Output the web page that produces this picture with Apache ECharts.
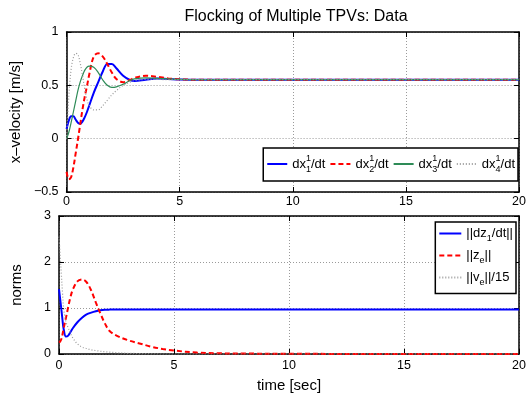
<!DOCTYPE html>
<html><head><meta charset="utf-8">
<script src="https://cdn.jsdelivr.net/npm/echarts@6/dist/echarts.min.js"></script>
<style>html,body{margin:0;padding:0;background:#fff}#c{width:529px;height:400px}</style>
</head><body><div id="c"></div>
<script>
// ---- data ----
const titleText = 'Flocking of Multiple TPVs: Data';
const xTicks = [0, 5, 10, 15, 20];
const tTop = [0,0.1,0.2,0.3,0.4,0.5,0.6,0.7,0.8,0.9,1.0,1.2,1.4,1.6,1.8,2.0,2.2,2.5,2.8,3.0,3.5,4.0,4.5,5,6,8,10,15,20];
const dx1 = [0.09,0.17,0.21,0.21,0.18,0.15,0.14,0.16,0.20,0.25,0.31,0.43,0.53,0.63,0.70,0.70,0.66,0.59,0.55,0.54,0.553,0.565,0.56,0.555,0.553,0.553,0.553,0.553,0.553];
const dx2 = [-0.31,-0.38,-0.36,-0.27,-0.14,-0.01,0.13,0.27,0.39,0.49,0.60,0.77,0.80,0.77,0.70,0.62,0.56,0.53,0.55,0.57,0.59,0.58,0.565,0.556,0.553,0.553,0.553,0.553,0.553];
const dx3 = [0.0,0.06,0.15,0.25,0.35,0.45,0.53,0.59,0.64,0.67,0.68,0.67,0.62,0.55,0.50,0.48,0.485,0.51,0.545,0.56,0.57,0.565,0.56,0.555,0.553,0.553,0.553,0.553,0.553];
const dx4 = [0.0,0.40,0.65,0.76,0.80,0.79,0.71,0.60,0.47,0.37,0.31,0.27,0.27,0.31,0.36,0.41,0.45,0.50,0.53,0.545,0.555,0.555,0.553,0.553,0.553,0.553,0.553,0.553,0.553];
const tBot = [0,0.05,0.1,0.15,0.2,0.3,0.4,0.5,0.6,0.8,1.0,1.2,1.4,1.6,1.8,2.0,2.2,2.5,3.0,3.5,4.0,4.5,5,6,7,8,10,15,20];
const nDz = [1.41,1.20,0.98,0.75,0.55,0.38,0.40,0.48,0.56,0.69,0.79,0.86,0.90,0.93,0.95,0.96,0.965,0.97,0.97,0.97,0.97,0.97,0.97,0.97,0.97,0.97,0.97,0.97,0.97];
const nZe = [0.25,0.27,0.32,0.42,0.55,0.78,1.02,1.24,1.40,1.58,1.62,1.56,1.38,1.12,0.88,0.66,0.50,0.40,0.30,0.23,0.16,0.11,0.075,0.03,0.015,0.01,0.005,0.0,0.0];
const nVe = [2.55,2.15,1.75,1.35,1.0,0.70,0.57,0.45,0.35,0.22,0.15,0.12,0.09,0.075,0.06,0.05,0.04,0.03,0.015,0.01,0.005,0.0,0.0,0.0,0.0,0.0,0.0,0.0,0.0];
const topNames = ['dx1','dx2','dx3','dx4'];
const botNames = ['dz1','ze','ve'];

const FONT = 'Liberation Sans, Arial, Helvetica, sans-serif';
const pairs = (t, v) => t.map((x, i) => [x, v[i]]);
const fmtNum = v => (v < 0 ? '\u2212' + (-v) : String(v));

const rich = {
  n: {fontSize: 13, fontFamily: FONT, color: '#000', lineHeight: 20},
  sup: {fontSize: 9, fontFamily: FONT, color: '#000', verticalAlign: 'top', lineHeight: 11, width: 0},
  sub: {fontSize: 9, fontFamily: FONT, color: '#000', verticalAlign: 'bottom', lineHeight: 9}
};
const legendLabel = {
  dx1: '{n|dx}{sup|1}{sub|1}{n|/dt}',
  dx2: '{n|dx}{sup|1}{sub|2}{n|/dt}',
  dx3: '{n|dx}{sup|1}{sub|3}{n|/dt}',
  dx4: '{n|dx}{sup|1}{sub|4}{n|/dt}',
  dz1: '{n|||dz}{sub|1}{n|/dt||}',
  ze: '{n|||z}{sub|e}{n|||}',
  ve: '{n|||v}{sub|e}{n|||/15}'
};

const axisLine = {show: true, onZero: false, lineStyle: {color: '#000', width: 1.5}};
const tick = {show: true, inside: true, length: 5, lineStyle: {color: '#000', width: 1}};
const split = {show: true, lineStyle: {type: [1, 2], color: '#9a9a9a', width: 1}};
const lab = (m) => ({show: true, margin: m, fontSize: 12.5, fontFamily: FONT, color: '#000', formatter: fmtNum});

function xAxes(gi, m) {
  return [
    {type: 'value', gridIndex: gi, min: 0, max: 20, interval: 5, position: 'bottom',
     axisLine, axisTick: tick, splitLine: split, axisLabel: lab(m)},
    {type: 'value', gridIndex: gi, min: 0, max: 20, interval: 5, position: 'top',
     axisLine, axisTick: tick, splitLine: {show: false}, axisLabel: {show: false}}
  ];
}
function yAxes(gi, mn, mx, iv, name, gap) {
  return [
    {type: 'value', gridIndex: gi, min: mn, max: mx, interval: iv, position: 'left',
     axisLine, axisTick: tick, splitLine: split, axisLabel: lab(8),
     name, nameLocation: 'middle', nameGap: gap, nameRotate: 90,
     nameTextStyle: {fontSize: 15, fontFamily: FONT, color: '#000'}},
    {type: 'value', gridIndex: gi, min: mn, max: mx, interval: iv, position: 'right',
     axisLine, axisTick: tick, splitLine: {show: false}, axisLabel: {show: false}}
  ];
}
const xa = xAxes(0, 3).concat(xAxes(1, 5));
xa[2].name = 'time [sec]';
xa[2].nameLocation = 'middle';
xa[2].nameGap = 24;
xa[2].nameTextStyle = {fontSize: 15, fontFamily: FONT, color: '#000'};
const ya = yAxes(0, -0.5, 1, 0.5, 'x\u2013velocity [m/s]', 31).concat(yAxes(1, 0, 3, 1, 'norms', 35));

function line(name, t, v, color, type, width, xi, yi) {
  return {name, type: 'line', xAxisIndex: xi, yAxisIndex: yi, data: pairs(t, v),
    symbol: 'none', smooth: 0.35, lineStyle: {color, type, width}, itemStyle: {color},
    silent: true, animation: false};
}

const legendCommon = {itemWidth: 20, itemHeight: 12, borderColor: '#000', borderWidth: 1.5,
  backgroundColor: '#fff', formatter: n => legendLabel[n], textStyle: {rich},
  itemStyle: {opacity: 0, borderWidth: 0}};

const option = {
  backgroundColor: '#fff',
  animation: false,
  title: {text: titleText, left: 291, top: 4, textAlign: 'center',
    textStyle: {fontSize: 16, fontWeight: 'normal', fontFamily: FONT, color: '#000'}},
  grid: [
    {left: 60, top: 32, width: 462, height: 160},
    {left: 59, top: 216, width: 463, height: 138}
  ],
  xAxis: xa,
  yAxis: ya,
  legend: [
    Object.assign({}, legendCommon, {data: topNames, orient: 'horizontal', right: 11, top: 148,
      itemGap: 4, padding: [6, 3, 7, 3]}),
    Object.assign({}, legendCommon, {data: botNames, orient: 'vertical', right: 13, top: 222,
      itemWidth: 22, itemGap: 5.5, padding: [5, 3, 6, 3]})
  ],
  series: [
    line('dx1', tTop, dx1, '#0000ff', 'solid', 2, 0, 0),
    line('dx2', tTop, dx2, '#ff0000', [5, 3], 2, 0, 0),
    line('dx3', tTop, dx3, '#2e8b57', 'solid', 1.2, 0, 0),
    line('dx4', tTop, dx4, '#9a9a9a', [1, 2], 1.2, 0, 0),
    line('dz1', tBot, nDz, '#0000ff', 'solid', 2, 2, 2),
    line('ze', tBot, nZe, '#ff0000', [5, 3], 2, 2, 2),
    line('ve', tBot, nVe, '#9a9a9a', [1, 2], 1.2, 2, 2)
  ]
};
const chart = echarts.init(document.getElementById('c'), null, {renderer: 'canvas'});
chart.setOption(option);
</script>
</body></html>
